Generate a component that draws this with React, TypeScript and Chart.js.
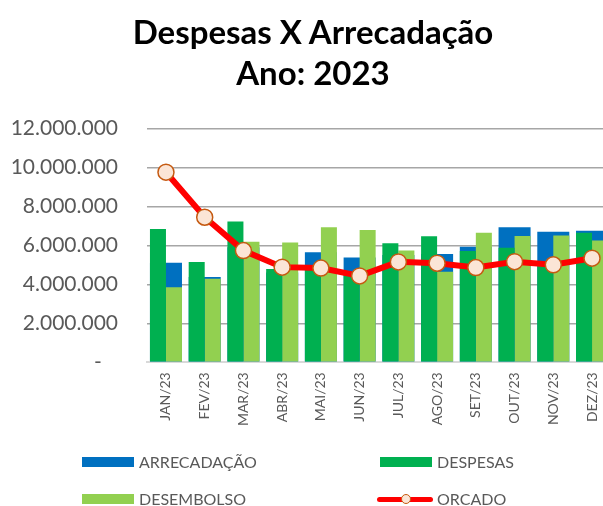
import React, { useEffect, useRef } from "react";
import { Chart, registerables } from "chart.js";

Chart.register(...registerables);

const LABELS = ["JAN/23", "FEV/23", "MAR/23", "ABR/23", "MAI/23", "JUN/23", "JUL/23", "AGO/23", "SET/23", "OUT/23", "NOV/23", "DEZ/23"];
const ARRECADACAO = [5100000, 4380000, 5900000, 4600000, 5650000, 5370000, 5500000, 5560000, 5920000, 6930000, 6690000, 6740000];
const DESPESAS = [6830000, 5150000, 7220000, 4790000, 4900000, 4500000, 6110000, 6460000, 5710000, 5870000, 5100000, 6640000];
const DESEMBOLSO = [3850000, 4280000, 6180000, 6140000, 6930000, 6790000, 5730000, 4650000, 6650000, 6480000, 6500000, 6240000];
const ORCADO = [9750000, 7440000, 5730000, 4880000, 4830000, 4430000, 5150000, 5080000, 4860000, 5160000, 5000000, 5340000];
const Y_MAX = 12000000;
const Y_STEP = 2000000;

const TITLE_LINES = ["Despesas X Arrecadação", "Ano: 2023"];

const FONT = "Lato, 'Noto Sans', sans-serif";
const TEXT_GRAY = "#595959";

function fmt(v: number): string {
  if (v === 0) return "-   ";
  return Math.round(v).toString().replace(/\B(?=(\d{3})+(?!\d))/g, ".");
}

export default function App() {
  const ref = useRef<HTMLCanvasElement | null>(null);

  useEffect(() => {
    const canvas = ref.current;
    if (!canvas) return;
    const chart = new Chart(canvas, {
      type: "bar",
      data: {
        labels: LABELS,
        datasets: [
          {
            type: "line",
            label: "ORCADO",
            data: ORCADO,
            borderColor: "#ff0000",
            backgroundColor: "#ff0000",
            borderWidth: 6,
            pointRadius: 8,
            pointBackgroundColor: "#fbe5d6",
            pointBorderColor: "#c55a11",
            pointBorderWidth: 1.5,
            tension: 0,
            order: 0,
          } as any,
          {
            label: "DESPESAS",
            data: DESPESAS,
            backgroundColor: "#00b050",
            categoryPercentage: 0.827,
            barPercentage: 1,
            order: 1,
          },
          {
            label: "DESEMBOLSO",
            data: DESEMBOLSO,
            backgroundColor: "#92d050",
            categoryPercentage: 0.827,
            barPercentage: 1,
            order: 1,
          },
          {
            label: "ARRECADAÇÃO",
            data: ARRECADACAO,
            backgroundColor: "#0070c0",
            categoryPercentage: 0.827,
            barPercentage: 1,
            grouped: false,
            order: 2,
          } as any,
        ],
      },
      options: {
        responsive: false,
        animation: false,
        devicePixelRatio: 1,
        layout: { padding: { top: 128.3, right: 14.6, left: 0, bottom: 0 } },
        plugins: {
          legend: { display: false },
          title: { display: false },
          tooltip: { enabled: false },
        },
        scales: {
          x: {
            type: "category",
            offset: true,
            grid: { display: false, drawTicks: false },
            border: { display: true, color: "#d9d9d9", width: 2 },
            ticks: {
              minRotation: 90,
              maxRotation: 90,
              padding: 10,
              color: TEXT_GRAY,
              font: { family: FONT, size: 14 },
              autoSkip: false,
            },
            afterFit: (scale: any) => {
              scale.height = 506 - 362.3;
            },
          },
          y: {
            min: 0,
            max: Y_MAX,
            border: { display: false },
            grid: {
              drawTicks: false,
              color: (ctx: any) => (ctx.tick && ctx.tick.value === 0 ? "rgba(0,0,0,0)" : "#a6a6a6"),
              lineWidth: 1.5,
            },
            ticks: {
              stepSize: Y_STEP,
              padding: 28.6,
              color: TEXT_GRAY,
              font: { family: FONT, size: 21 },
              callback: (v: any) => fmt(Number(v)),
            },
            afterFit: (scale: any) => {
              scale.width = 146.6;
            },
          },
        },
      } as any,
    });
    return () => chart.destroy();
  }, []);

  const legendText: React.CSSProperties = {
    position: "absolute",
    fontFamily: FONT,
    fontSize: 16,
    color: TEXT_GRAY,
    lineHeight: "18px",
    whiteSpace: "nowrap",
  };
  const swatch = (left: number, top: number, color: string): React.CSSProperties => ({
    position: "absolute",
    left,
    top,
    width: 52,
    height: 10,
    background: color,
  });

  return (
    <div
      style={{
        position: "fixed",
        left: 0,
        top: 0,
        width: 603,
        height: 506,
        overflow: "hidden",
        background: "#ffffff",
      }}
    >
      <canvas ref={ref} width={626} height={506} style={{ position: "absolute", left: 0, top: 0, width: 626, height: 506 }} />
      {TITLE_LINES.map((t, i) => (
        <div
          key={i}
          style={{
            position: "absolute",
            left: 0,
            width: 626,
            top: 10 + i * 41,
            textAlign: "center",
            fontFamily: FONT,
            fontWeight: 700,
            fontSize: 33,
            lineHeight: "42px",
            color: "#000000",
            whiteSpace: "nowrap",
          }}
        >
          {t}
        </div>
      ))}
      <div style={swatch(82, 457, "#0070c0")} />
      <div style={{ ...legendText, left: 139, top: 453 }}>ARRECADAÇÃO</div>
      <div style={swatch(380, 457, "#00b050")} />
      <div style={{ ...legendText, left: 437, top: 453 }}>DESPESAS</div>
      <div style={swatch(82, 494, "#92d050")} />
      <div style={{ ...legendText, left: 139, top: 490 }}>DESEMBOLSO</div>
      <div
        style={{
          position: "absolute",
          left: 377,
          top: 496.5,
          width: 56,
          height: 5,
          borderRadius: 3,
          background: "#ff0000",
        }}
      />
      <div
        style={{
          position: "absolute",
          left: 400.5,
          top: 494,
          width: 8,
          height: 8,
          borderRadius: "50%",
          background: "#fbe5d6",
          border: "1.2px solid #c55a11",
        }}
      />
      <div style={{ ...legendText, left: 437, top: 490 }}>ORCADO</div>
    </div>
  );
}
